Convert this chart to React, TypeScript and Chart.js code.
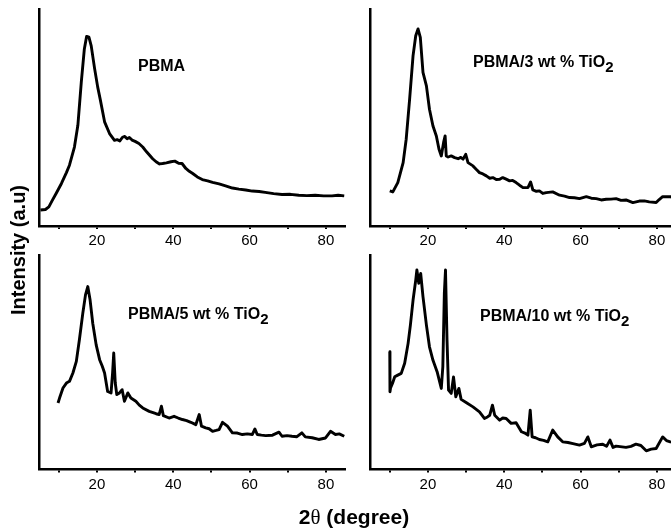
import React, { useEffect, useRef } from 'react';
import { Chart, registerables } from 'chart.js';

Chart.register(...registerables);

// ---- data (2θ in degrees, intensity in arbitrary units 0-100) ----
const X_MIN = 5;
const X_MAX = 85;
const TICK_VALUES = [10, 20, 30, 40, 50, 60, 70, 80];
const TICK_LABELS = ['', '20', '', '40', '', '60', '', '80'];

const PBMA_X = [5.2, 6.5, 7.4, 8.3, 9.3, 10.7, 12.0, 12.8, 14.1, 15.0, 15.9, 16.7, 17.3, 17.9, 18.5, 19.4, 20.2, 20.9, 22.0, 23.3, 24.6, 25.3, 26.0, 26.7, 27.3, 27.9, 28.5, 29.2, 30.0, 31.0, 32.0, 33.0, 33.8, 34.6, 35.5, 36.4, 37.2, 38.2, 39.4, 40.4, 41.4, 42.3, 43.3, 44.2, 45.1, 46.3, 47.6, 49.0, 50.3, 52.0, 53.7, 55.5, 57.2, 59.0, 60.7, 62.5, 64.1, 66.3, 68.5, 70.7, 72.9, 75.0, 77.2, 79.4, 81.6, 83.2, 84.8];
const PBMA_Y = [7.4, 7.6, 8.8, 11.8, 15.0, 19.6, 24.6, 28.0, 36.4, 46.4, 66.3, 81.6, 87.4, 87.0, 83.0, 72.4, 64.0, 58.0, 48.0, 42.6, 39.5, 39.8, 39.2, 40.9, 41.3, 40.2, 40.8, 39.6, 39.0, 38.0, 36.4, 34.2, 32.6, 31.0, 29.6, 28.6, 28.8, 29.1, 29.6, 29.9, 28.9, 28.8, 26.5, 25.2, 24.2, 22.6, 21.4, 20.8, 20.1, 19.4, 18.5, 17.5, 17.0, 16.6, 16.1, 15.9, 15.5, 14.9, 14.5, 14.6, 14.2, 14.0, 14.2, 13.9, 13.9, 14.2, 13.9];

const TIO2_3_X = [10.0, 10.8, 12.1, 13.5, 14.3, 15.2, 16.1, 16.8, 17.4, 18.0, 18.7, 19.6, 20.4, 21.3, 22.2, 22.9, 23.5, 24.1, 24.5, 24.8, 25.3, 26.1, 27.0, 27.9, 28.6, 29.2, 29.9, 30.5, 31.8, 32.7, 33.5, 34.4, 35.3, 36.2, 37.0, 37.9, 38.8, 39.6, 40.5, 41.4, 42.2, 43.1, 44.0, 44.9, 46.2, 46.9, 47.5, 48.4, 49.2, 50.1, 51.0, 52.7, 54.5, 55.8, 57.1, 58.4, 59.7, 61.5, 62.8, 64.1, 65.4, 66.7, 68.0, 69.3, 70.6, 71.9, 73.7, 75.4, 76.7, 78.0, 79.8, 80.6, 81.5, 83.5, 85.0];
const TIO2_3_Y = [16.2, 15.7, 20.0, 29.2, 40.0, 58.5, 78.5, 87.7, 90.8, 86.9, 70.8, 64.6, 53.8, 46.2, 41.5, 35.4, 32.3, 38.5, 41.5, 32.3, 31.8, 32.3, 31.5, 31.0, 31.6, 30.8, 33.0, 29.2, 27.7, 26.0, 24.6, 24.0, 23.1, 22.0, 22.3, 21.4, 21.5, 22.3, 21.6, 20.8, 21.0, 20.0, 18.8, 17.7, 17.7, 20.3, 16.6, 16.0, 16.2, 15.0, 15.4, 15.7, 14.2, 13.8, 13.1, 13.0, 12.6, 13.5, 12.8, 12.6, 12.0, 12.3, 12.4, 12.6, 11.8, 12.0, 10.8, 11.5, 11.6, 11.1, 10.8, 12.2, 13.5, 13.5, 13.0];

const TIO2_5_X = [9.8, 10.2, 11.1, 12.0, 12.8, 13.7, 14.6, 15.4, 16.3, 17.0, 17.6, 18.2, 18.9, 19.8, 20.7, 21.4, 22.0, 22.8, 23.7, 24.1, 24.4, 24.8, 25.2, 25.9, 26.6, 27.2, 28.1, 28.9, 30.2, 31.1, 32.0, 33.7, 35.5, 36.3, 36.9, 37.4, 38.9, 40.2, 41.3, 42.4, 43.5, 44.6, 45.9, 46.8, 47.4, 48.5, 49.4, 50.3, 51.2, 52.0, 52.9, 54.2, 55.5, 56.8, 58.1, 59.4, 60.7, 61.4, 62.0, 63.1, 64.2, 66.0, 67.7, 68.5, 69.8, 71.1, 72.4, 73.7, 74.6, 76.4, 78.1, 79.9, 81.2, 82.5, 83.5, 84.8];
const TIO2_5_Y = [31.0, 33.3, 38.0, 40.3, 41.1, 45.0, 50.4, 60.5, 72.9, 81.4, 85.3, 79.1, 68.2, 58.1, 51.2, 48.1, 45.0, 36.4, 35.7, 45.0, 54.3, 40.3, 34.9, 35.7, 37.2, 31.8, 35.7, 33.3, 31.8, 30.0, 28.7, 27.1, 26.0, 25.6, 29.5, 25.1, 24.0, 24.8, 24.0, 23.3, 22.8, 22.0, 20.9, 25.6, 20.2, 19.4, 19.0, 17.8, 18.2, 18.6, 22.0, 20.2, 17.1, 17.0, 16.3, 16.6, 16.3, 18.9, 16.3, 16.0, 15.8, 16.0, 17.4, 15.5, 15.8, 15.5, 15.3, 17.1, 15.2, 14.8, 14.0, 14.7, 17.8, 16.3, 16.6, 15.5];

const TIO2_10_X = [10.0, 10.05, 10.2, 10.7, 11.3, 12.1, 13.0, 13.9, 14.8, 15.4, 16.1, 16.8, 17.1, 17.6, 18.1, 18.7, 19.6, 20.4, 21.3, 22.4, 23.5, 23.9, 24.3, 24.6, 25.0, 25.4, 26.1, 26.7, 27.3, 28.1, 28.7, 30.1, 31.8, 33.5, 34.8, 35.6, 36.2, 36.9, 37.5, 38.8, 39.6, 40.5, 41.8, 43.1, 44.5, 45.4, 46.2, 46.8, 47.3, 48.2, 49.2, 50.3, 51.4, 52.7, 54.0, 55.3, 56.7, 58.0, 59.7, 61.0, 61.9, 62.8, 64.3, 65.8, 66.8, 67.7, 68.5, 69.3, 71.9, 73.2, 74.5, 75.8, 77.2, 78.5, 79.8, 81.5, 82.5, 83.5, 85.0];
const TIO2_10_Y = [54.9, 36.2, 38.0, 40.1, 43.2, 44.0, 44.8, 49.5, 58.8, 67.3, 79.0, 88.3, 93.0, 86.8, 91.4, 80.6, 67.3, 57.2, 51.0, 45.6, 37.8, 47.9, 82.1, 93.0, 60.3, 37.0, 35.5, 43.2, 33.9, 37.8, 32.7, 31.1, 29.2, 26.9, 23.8, 24.5, 25.3, 30.0, 25.3, 23.0, 24.0, 23.8, 21.5, 21.8, 17.6, 17.0, 16.0, 27.7, 15.2, 14.8, 14.0, 13.6, 12.9, 18.4, 15.2, 12.9, 12.6, 12.1, 11.4, 12.2, 15.2, 10.6, 11.5, 11.8, 10.8, 13.7, 10.3, 10.9, 10.3, 10.8, 11.8, 11.2, 8.7, 9.5, 9.8, 15.2, 13.5, 12.9, 12.5];

const FONT = "'Liberation Sans', Arial, Helvetica, sans-serif";

type PanelProps = {
  xs: number[];
  ys: number[];
  left: number;
  top: number;
  width: number;
  height: number;
  padLeft: number;
  padTop: number;
  padRight: number;
  xAxisHeight: number;
};

function Panel(p: PanelProps) {
  const ref = useRef<HTMLCanvasElement | null>(null);
  useEffect(() => {
    if (!ref.current) return;
    const chart = new Chart(ref.current, {
      type: 'line',
      data: {
        datasets: [
          {
            data: p.xs.map((x, i) => ({ x, y: p.ys[i] })),
            borderColor: '#000',
            borderWidth: 2.9,
            pointRadius: 0,
            tension: 0,
            fill: false,
            borderJoinStyle: 'round',
          },
        ],
      },
      options: {
        animation: false,
        responsive: false,
        maintainAspectRatio: false,
        devicePixelRatio: 1,
        layout: { padding: { left: p.padLeft, top: p.padTop, right: p.padRight, bottom: 0 } },
        plugins: { legend: { display: false }, tooltip: { enabled: false } },
        scales: {
          x: {
            type: 'linear',
            min: X_MIN,
            max: X_MAX,
            afterBuildTicks: (s: any) => {
              s.ticks = TICK_VALUES.map((v) => ({ value: v }));
            },
            afterFit: (s: any) => {
              s.height = p.xAxisHeight;
            },
            grid: { display: true, drawOnChartArea: false, drawTicks: true, tickLength: 3, color: '#000', lineWidth: 2 },
            border: { display: true, color: '#000', width: 2.5 },
            ticks: {
              autoSkip: false,
              maxRotation: 0,
              padding: 3,
              color: '#000',
              font: { family: FONT, size: 15 },
              callback: (v: any) => {
                const i = TICK_VALUES.indexOf(Number(v));
                return i >= 0 ? TICK_LABELS[i] : '';
              },
            },
          },
          y: {
            type: 'linear',
            min: 0,
            max: 100,
            afterFit: (s: any) => {
              s.width = 0;
            },
            grid: { display: false },
            border: { display: true, color: '#000', width: 2.5 },
            ticks: { display: false },
          },
        },
      },
    });
    return () => chart.destroy();
  }, []);
  return (
    <canvas
      ref={ref}
      width={p.width}
      height={p.height}
      style={{ position: 'absolute', left: p.left, top: p.top, width: p.width, height: p.height }}
    />
  );
}

function Title({ text, sub, left, top }: { text: string; sub?: string; left: number; top: number }) {
  return (
    <div
      style={{
        position: 'absolute',
        left,
        top,
        fontFamily: FONT,
        fontWeight: 'bold',
        fontSize: 16,
        lineHeight: 1,
        whiteSpace: 'nowrap',
        color: '#000',
      }}
    >
      {text}
      {sub ? <span style={{ fontSize: 15, verticalAlign: '-5px' }}>{sub}</span> : null}
    </div>
  );
}

export default function App() {
  useEffect(() => {
    document.body.style.margin = '0';
  }, []);
  return (
    <div style={{ position: 'relative', width: 671, height: 529, overflow: 'hidden', background: '#fff' }}>
      <Panel xs={PBMA_X} ys={PBMA_Y} left={0} top={0} width={350} height={260} padLeft={39.7} padTop={9} padRight={5} xAxisHeight={34} />
      <Panel xs={TIO2_3_X} ys={TIO2_3_Y} left={331} top={0} width={350} height={260} padLeft={39.7} padTop={9} padRight={5} xAxisHeight={34} />
      <Panel xs={TIO2_5_X} ys={TIO2_5_Y} left={0} top={240} width={350} height={270} padLeft={39.7} padTop={15} padRight={5} xAxisHeight={40.5} />
      <Panel xs={TIO2_10_X} ys={TIO2_10_Y} left={331} top={240} width={350} height={270} padLeft={39.7} padTop={15} padRight={5} xAxisHeight={40.5} />

      <Title text="PBMA" left={138} top={58} />
      <Title text="PBMA/3 wt % TiO" sub="2" left={473} top={54} />
      <Title text="PBMA/5 wt % TiO" sub="2" left={128} top={306} />
      <Title text="PBMA/10 wt % TiO" sub="2" left={480} top={308} />

      <div
        style={{
          position: 'absolute',
          left: 18,
          top: 250,
          transform: 'translate(-50%, -50%) rotate(-90deg)',
          fontFamily: FONT,
          fontWeight: 'bold',
          fontSize: 20,
          lineHeight: 1,
          whiteSpace: 'nowrap',
          color: '#000',
        }}
      >
        Intensity (a.u)
      </div>
      <div
        style={{
          position: 'absolute',
          left: 354,
          top: 506,
          transform: 'translateX(-50%)',
          fontFamily: FONT,
          fontWeight: 'bold',
          fontSize: 21,
          lineHeight: 1,
          whiteSpace: 'nowrap',
          color: '#000',
        }}
      >
        2<span style={{ fontFamily: "'Liberation Serif', 'DejaVu Serif', serif", fontWeight: 'normal' }}>θ</span> (degree)
      </div>
    </div>
  );
}
